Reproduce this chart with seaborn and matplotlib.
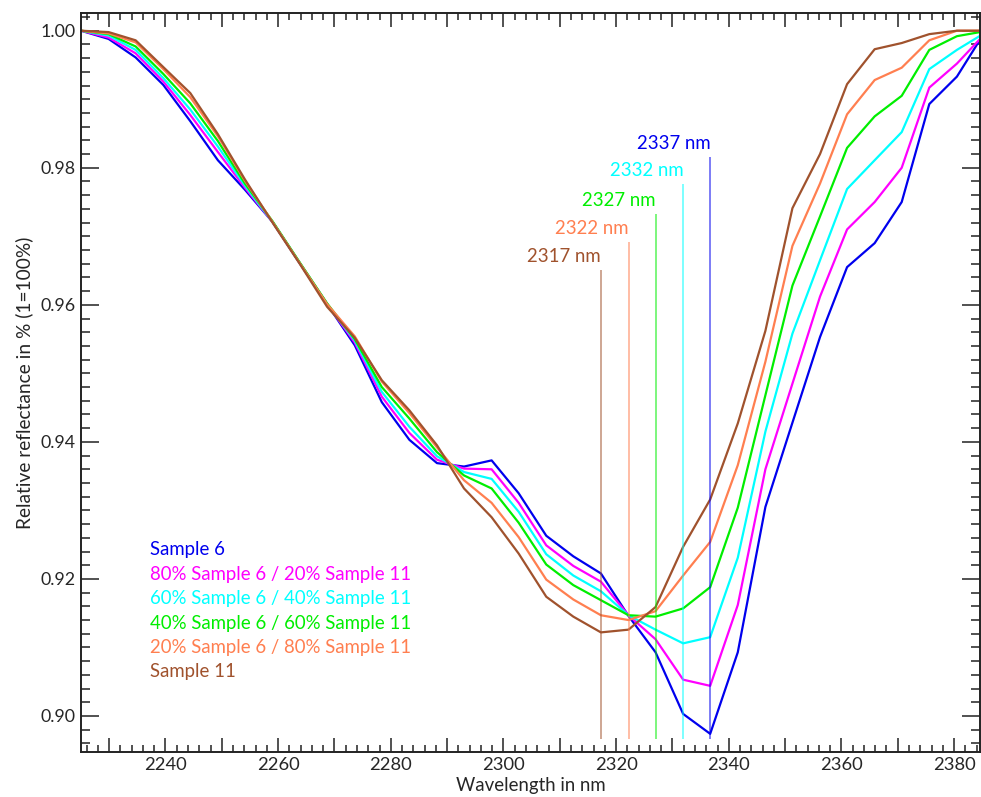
import numpy as np
import pandas as pd
import matplotlib
matplotlib.use("Agg")
import matplotlib.pyplot as plt
from matplotlib.ticker import MultipleLocator, FuncFormatter
import seaborn as sns

# ---------------- data ----------------
wavelength = [2225.0, 2229.9, 2234.7, 2239.6, 2244.4, 2249.3, 2254.1, 2259.0,
              2263.9, 2268.7, 2273.6, 2278.4, 2283.3, 2288.2, 2293.0, 2297.9,
              2302.7, 2307.6, 2312.4, 2317.3, 2322.2, 2327.0, 2331.9, 2336.7,
              2341.6, 2346.5, 2351.3, 2356.2, 2361.0, 2365.9, 2370.7, 2375.6,
              2380.5, 2385.3]

sample6 = [1.0000, 0.9988, 0.9961, 0.9921, 0.9868, 0.9811, 0.9768, 0.9721,
           0.9660, 0.9601, 0.9541, 0.9458, 0.9403, 0.9369, 0.9364, 0.9373,
           0.9325, 0.9263, 0.9233, 0.9208, 0.9146, 0.9093, 0.9003, 0.8974,
           0.9093, 0.9305, 0.9428, 0.9553, 0.9655, 0.9690, 0.9750, 0.9893,
           0.9933, 0.9996]
mix80_20 = [1.0000, 0.9990, 0.9967, 0.9926, 0.9877, 0.9823, 0.9771, 0.9721,
            0.9660, 0.9601, 0.9545, 0.9466, 0.9413, 0.9374, 0.9361, 0.9360,
            0.9311, 0.9249, 0.9219, 0.9196, 0.9147, 0.9112, 0.9053, 0.9044,
            0.9162, 0.9360, 0.9485, 0.9612, 0.9710, 0.9750, 0.9800, 0.9917,
            0.9952, 0.9994]
mix60_40 = [1.0000, 0.9993, 0.9972, 0.9931, 0.9885, 0.9831, 0.9774, 0.9721,
            0.9660, 0.9601, 0.9548, 0.9473, 0.9422, 0.9379, 0.9356, 0.9346,
            0.9298, 0.9236, 0.9205, 0.9182, 0.9147, 0.9126, 0.9106, 0.9115,
            0.9231, 0.9415, 0.9558, 0.9665, 0.9769, 0.9811, 0.9852, 0.9944,
            0.9972, 0.9996]
mix40_60 = [1.0000, 0.9995, 0.9977, 0.9937, 0.9894, 0.9839, 0.9777, 0.9722,
            0.9661, 0.9602, 0.9550, 0.9480, 0.9434, 0.9385, 0.9351, 0.9332,
            0.9282, 0.9221, 0.9191, 0.9169, 0.9147, 0.9145, 0.9157, 0.9188,
            0.9304, 0.9468, 0.9628, 0.9729, 0.9829, 0.9875, 0.9905, 0.9972,
            0.9992, 0.9999]
mix20_80 = [1.0000, 0.9996, 0.9983, 0.9944, 0.9903, 0.9846, 0.9781, 0.9721,
            0.9660, 0.9601, 0.9554, 0.9488, 0.9442, 0.9392, 0.9344, 0.9311,
            0.9261, 0.9199, 0.9170, 0.9147, 0.9140, 0.9153, 0.9205, 0.9254,
            0.9366, 0.9517, 0.9686, 0.9777, 0.9878, 0.9928, 0.9946, 0.9986,
            1.0000, 1.0000]
sample11 = [1.0000, 0.9998, 0.9986, 0.9947, 0.9909, 0.9849, 0.9783, 0.9720,
            0.9659, 0.9597, 0.9552, 0.9490, 0.9446, 0.9395, 0.9332, 0.9290,
            0.9237, 0.9174, 0.9145, 0.9122, 0.9126, 0.9159, 0.9247, 0.9316,
            0.9427, 0.9562, 0.9741, 0.9820, 0.9922, 0.9973, 0.9982, 0.9995,
            1.0000, 1.0000]

series_names = ["Sample 6",
                "80% Sample 6 / 20% Sample 11",
                "60% Sample 6 / 40% Sample 11",
                "40% Sample 6 / 60% Sample 11",
                "20% Sample 6 / 80% Sample 11",
                "Sample 11"]
series_values = [sample6, mix80_20, mix60_40, mix40_60, mix20_80, sample11]
series_colors = ["#0000ee", "#ff00ff", "#00ffff", "#00ee00", "#ff7f50", "#a0522d"]

minima_wl = [2317.3, 2322.2, 2327.0, 2331.9, 2336.7]
minima_top = [0.9651, 0.9692, 0.9733, 0.9776, 0.9816]
minima_labels = ["2317 nm", "2322 nm", "2327 nm", "2332 nm", "2337 nm"]
minima_colors = ["#a0522d", "#ff7f50", "#00ee00", "#00ffff", "#0000ee"]

# ---------------- figure ----------------
sns.set_theme(style="ticks")
plt.rcParams['font.family'] = ['Lato', 'DejaVu Sans']

fig = plt.figure(figsize=(9.81, 7.97), dpi=100)
ax = fig.add_axes([81/981, 1 - 751.7/797, (980 - 81)/981, (751.7 - 13.3)/797])

df = pd.DataFrame({
    "wavelength": np.tile(wavelength, len(series_names)),
    "value": np.concatenate(series_values),
    "series": np.repeat(series_names, len(wavelength)),
})
sns.lineplot(data=df, x="wavelength", y="value", hue="series",
             hue_order=series_names, palette=series_colors,
             linewidth=1.6, legend=False, ax=ax, sort=False)

ax.set_xlim(2225, 2384.6)
ax.set_ylim(0.89479, 1.00254)
ymin_line = 0.8967

for wl, top, lab, col in zip(minima_wl, minima_top, minima_labels, minima_colors):
    ax.vlines(wl, ymin_line, top, color=col, alpha=0.6, linewidth=1.2)
    ax.text(wl, top + 0.0007, lab, color=col, ha="right", va="bottom",
            fontsize=13.4)

# legend as colored text
for i, (name, col) in enumerate(zip(series_names, series_colors)):
    ax.text((150 - 81) / 899, (751.7 - 550 - 24.4 * i) / 738.4, name,
            color=col, transform=ax.transAxes, ha="left", va="center",
            fontsize=13.4)

ax.set_xlabel("Wavelength in nm", fontsize=13.4, labelpad=3)
ax.set_ylabel("Relative reflectance in % (1=100%)", fontsize=13.8, labelpad=5)

ax.xaxis.set_major_locator(MultipleLocator(10))
ax.xaxis.set_minor_locator(MultipleLocator(2))
ax.xaxis.set_major_formatter(FuncFormatter(
    lambda v, p: f"{int(round(v))}" if int(round(v)) % 20 == 0 else ""))
ax.yaxis.set_major_locator(MultipleLocator(0.02))
ax.yaxis.set_minor_locator(MultipleLocator(0.002))
ax.yaxis.set_major_formatter(FuncFormatter(lambda v, p: f"{v:.2f}"))

ax.tick_params(axis="both", which="both", direction="in", top=True, right=True,
               color="#222222", width=1.1)
ax.tick_params(axis="x", which="major", length=10, labelsize=13.2, pad=4)
ax.tick_params(axis="x", which="minor", length=5)
ax.tick_params(axis="y", which="major", length=13, labelsize=12.8, pad=4)
ax.tick_params(axis="y", which="minor", length=6.5)
for s in ax.spines.values():
    s.set_linewidth(1.4)
    s.set_color("#222222")
    s.set_visible(True)

fig.savefig("out.png", dpi=100)
